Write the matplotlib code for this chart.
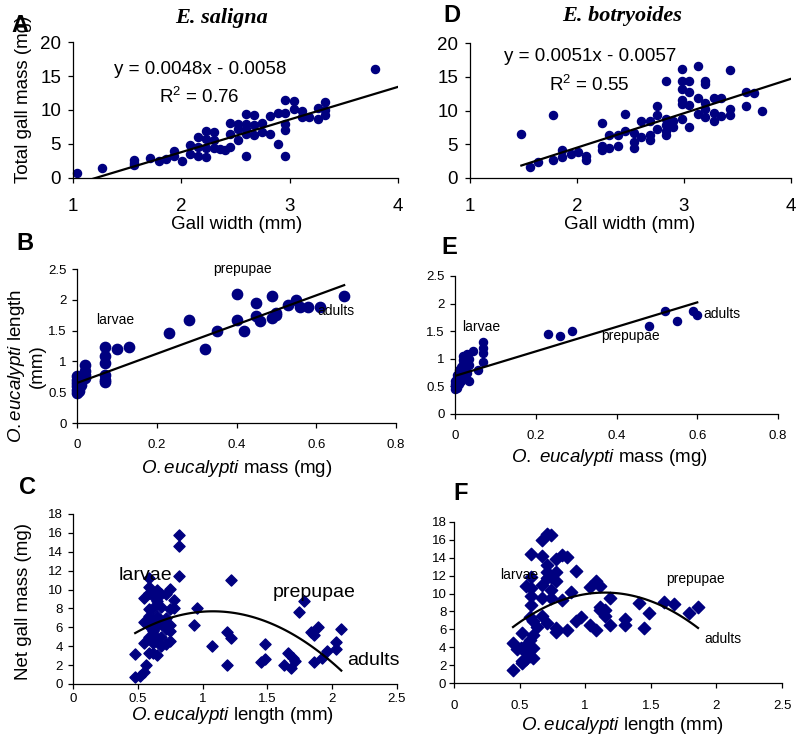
import numpy as np
import matplotlib
matplotlib.use("Agg")
import matplotlib.pyplot as plt

plt.rcParams['font.family'] = ['Liberation Sans', 'DejaVu Sans']
plt.rcParams['mathtext.fontset'] = 'custom'
plt.rcParams['mathtext.rm'] = 'Liberation Sans'
plt.rcParams['mathtext.it'] = 'Liberation Sans:italic'

NAVY = '#000080'

# ---- data ----
# A: E. saligna, gall width (mm) vs total gall mass (mg)
a_width = [1.04, 1.27, 1.56, 1.56, 1.56, 1.71, 1.79, 1.86, 1.93, 1.93, 2.01, 2.08, 2.08,
           2.15, 2.15, 2.15, 2.23, 2.23, 2.23, 2.23, 2.30, 2.30, 2.30, 2.36, 2.40, 2.45,
           2.45, 2.45, 2.52, 2.52, 2.52, 2.60, 2.60, 2.60, 2.60, 2.60, 2.67, 2.67, 2.67,
           2.74, 2.74, 2.82, 2.82, 2.89, 2.89, 2.96, 2.96, 2.96, 2.96, 2.96, 3.04, 3.04,
           3.11, 3.11, 3.18, 3.26, 3.26, 3.33, 3.33, 3.33, 3.79]
a_mass = [0.8, 1.4, 2.6, 2.2, 1.9, 3.0, 2.5, 2.8, 4.0, 3.3, 2.5, 4.9, 3.5,
          6.0, 4.6, 3.2, 6.9, 5.7, 4.4, 3.1, 6.8, 5.6, 4.4, 4.3, 4.1, 8.1,
          6.5, 4.5, 8.0, 7.2, 5.6, 9.4, 8.0, 6.5, 3.2, 7.2, 9.2, 7.8, 6.3,
          8.1, 6.8, 9.1, 6.4, 9.5, 5.0, 11.5, 9.6, 8.0, 7.1, 3.3, 11.3, 10.2,
          9.8, 9.0, 9.0, 10.3, 8.7, 11.2, 10.0, 9.2, 16.0]
a_fit = [4.8, -5.8]

# D: E. botryoides, gall width (mm) vs total gall mass (mg)
d_width = [1.48, 1.56, 1.64, 1.78, 1.78, 1.86, 1.86, 1.94, 2.01, 2.08, 2.08, 2.23, 2.23,
           2.23, 2.30, 2.30, 2.38, 2.38, 2.45, 2.45, 2.53, 2.53, 2.53, 2.60, 2.60, 2.68,
           2.68, 2.68, 2.75, 2.75, 2.75, 2.83, 2.83, 2.83, 2.83, 2.83, 2.90, 2.90, 2.98,
           2.98, 2.98, 2.98, 2.98, 2.98, 3.05, 3.05, 3.05, 3.05, 3.13, 3.13, 3.13, 3.20,
           3.20, 3.20, 3.20, 3.20, 3.28, 3.28, 3.28, 3.35, 3.35, 3.43, 3.43, 3.43, 3.58,
           3.58, 3.65, 3.73]
d_mass = [6.5, 1.6, 2.4, 9.3, 2.7, 4.1, 3.1, 3.5, 3.9, 3.3, 2.7, 8.2, 4.7,
          4.2, 6.3, 4.4, 6.4, 4.7, 9.5, 7.0, 6.7, 5.3, 4.4, 8.5, 6.1, 8.5,
          6.3, 5.6, 10.6, 9.4, 7.3, 14.4, 8.8, 7.9, 6.3, 7.0, 8.5, 7.6, 16.1,
          14.4, 13.2, 11.5, 11.0, 8.7, 14.4, 12.7, 10.8, 7.6, 16.6, 11.8, 9.5, 14.4,
          14.0, 11.1, 10.2, 9.0, 11.9, 9.6, 8.4, 11.8, 9.2, 16.0, 10.2, 9.4, 12.7,
          10.7, 12.6, 9.9]
d_fit = [5.1, -5.7]

# B: E. saligna, O. eucalypti mass (mg) vs length (mm)
b_mass = [0.0, 0.0, 0.0, 0.0, 0.0, 0.0, 0.005, 0.005, 0.005, 0.01, 0.01, 0.02, 0.02,
          0.02, 0.02, 0.07, 0.07, 0.07, 0.07, 0.07, 0.07, 0.10, 0.13, 0.23, 0.28, 0.32,
          0.35, 0.40, 0.40, 0.42, 0.45, 0.45, 0.46, 0.49, 0.49, 0.50, 0.50, 0.53, 0.55,
          0.56, 0.58, 0.61, 0.67]
b_length = [0.76, 0.70, 0.65, 0.60, 0.54, 0.49, 0.72, 0.57, 0.52, 0.62, 0.68, 0.94, 0.84,
            0.78, 0.73, 1.24, 1.08, 0.97, 0.78, 0.70, 0.67, 1.20, 1.23, 1.46, 1.68, 1.20,
            1.50, 2.09, 1.68, 1.50, 1.94, 1.73, 1.65, 2.06, 1.71, 1.79, 1.75, 1.91, 1.99,
            1.88, 1.88, 1.88, 2.06]
b_fit = [2.37, 0.65]

# E: E. botryoides, O. eucalypti mass (mg) vs length (mm)
e_mass = [0.0, 0.0, 0.0, 0.0, 0.005, 0.005, 0.005, 0.01, 0.01, 0.01, 0.015, 0.015, 0.02,
          0.02, 0.02, 0.02, 0.025, 0.025, 0.03, 0.03, 0.03, 0.035, 0.035, 0.035, 0.045,
          0.058, 0.07, 0.07, 0.07, 0.07, 0.23, 0.26, 0.29, 0.48, 0.52, 0.55, 0.59, 0.60]
e_length = [0.45, 0.50, 0.55, 0.60, 0.48, 0.65, 0.70, 0.55, 0.75, 0.80, 0.60, 0.85, 0.70,
            0.90, 1.05, 0.98, 0.65, 0.80, 0.75, 0.95, 1.08, 0.60, 0.88, 1.00, 1.14,
            0.80, 1.31, 1.20, 1.10, 0.95, 1.45, 1.41, 1.50, 1.60, 1.87, 1.68, 1.87, 1.80]
e_fit = [2.22, 0.69]

# C: E. saligna, O. eucalypti length (mm) vs net gall mass (mg)
c_length = [0.48, 0.48, 0.52, 0.55, 0.56, 0.55, 0.55, 0.55, 0.59, 0.59, 0.59, 0.59, 0.59,
            0.59, 0.59, 0.59, 0.62, 0.62, 0.62, 0.62, 0.62, 0.62, 0.65, 0.65, 0.65, 0.65,
            0.65, 0.65, 0.68, 0.68, 0.68, 0.68, 0.68, 0.72, 0.72, 0.72, 0.72, 0.75, 0.75,
            0.75, 0.75, 0.75, 0.78, 0.78, 0.82, 0.82, 0.82, 0.93, 0.96, 1.07, 1.19, 1.19,
            1.22, 1.22, 1.45, 1.48, 1.48, 1.63, 1.66, 1.68, 1.70, 1.71, 1.74, 1.78, 1.84,
            1.86, 1.86, 1.89, 1.92, 1.96, 2.03, 2.03, 2.07]
c_mass = [3.2, 0.7, 0.9, 1.3, 2.0, 9.1, 6.6, 4.3, 11.2, 10.3, 9.6, 7.9, 7.2,
          6.1, 5.0, 3.3, 9.3, 8.0, 6.8, 5.6, 4.3, 3.3, 10.0, 8.8, 7.2, 6.1,
          4.9, 3.1, 9.5, 8.2, 6.5, 5.0, 4.0, 9.5, 7.0, 5.8, 4.2, 10.1, 7.9,
          6.3, 5.6, 4.6, 8.9, 8.0, 15.8, 14.6, 11.4, 6.2, 8.0, 4.0, 2.0, 5.5,
          4.9, 11.0, 2.3, 2.6, 4.2, 2.0, 3.3, 1.7, 2.8, 2.4, 7.6, 8.8, 5.5,
          5.2, 2.3, 6.0, 2.8, 3.5, 4.4, 3.7, 5.8]
c_fit = [-6.4, 13.82, 0.235]

# F: E. botryoides, O. eucalypti length (mm) vs net gall mass (mg)
f_length = [0.45, 0.45, 0.48, 0.51, 0.52, 0.52, 0.52, 0.55, 0.55, 0.55, 0.55, 0.58, 0.58,
            0.58, 0.59, 0.59, 0.59, 0.59, 0.59, 0.60, 0.60, 0.60, 0.60, 0.63, 0.67, 0.67,
            0.67, 0.67, 0.67, 0.71, 0.71, 0.71, 0.71, 0.71, 0.74, 0.74, 0.74, 0.74, 0.78,
            0.78, 0.78, 0.78, 0.78, 0.82, 0.82, 0.86, 0.86, 0.89, 0.93, 0.93, 0.97, 1.04,
            1.04, 1.08, 1.08, 1.11, 1.11, 1.11, 1.15, 1.15, 1.19, 1.19, 1.30, 1.30, 1.41,
            1.45, 1.49, 1.60, 1.68, 1.79, 1.86]
f_mass = [1.5, 4.5, 3.8, 3.9, 2.2, 2.5, 5.6, 3.5, 4.3, 2.7, 10.8, 4.8, 3.0,
          7.4, 14.4, 11.8, 10.6, 9.7, 8.7, 5.4, 3.9, 2.8, 6.9, 6.3, 16.0, 14.2,
          11.0, 9.5, 7.5, 16.7, 13.2, 12.4, 11.7, 6.7, 16.6, 11.8, 10.4, 9.5, 13.9,
          12.4, 11.4, 6.1, 5.7, 14.3, 9.3, 14.1, 5.9, 10.2, 12.5, 6.9, 7.4, 10.7,
          6.5, 11.4, 5.9, 10.9, 8.5, 8.2, 7.5, 8.2, 9.5, 6.5, 7.1, 6.5, 9.0,
          6.1, 7.8, 9.1, 8.8, 7.8, 8.5]
f_fit = [-7.85, 18.06, -0.28]

top_xticks = [1, 2, 3, 4]
top_yticks = [0, 5, 10, 15, 20]
mid_xticks = [0, 0.2, 0.4, 0.6, 0.8]
mid_xlabels = ['0', '0.2', '0.4', '0.6', '0.8']
mid_yticks = [0, 0.5, 1, 1.5, 2, 2.5]
mid_ylabels = ['0', '0.5', '1', '1.5', '2', '2.5']
bot_xticks = [0, 0.5, 1, 1.5, 2, 2.5]
bot_xlabels = ['0', '0.5', '1', '1.5', '2', '2.5']
bot_yticks = [0, 2, 4, 6, 8, 10, 12, 14, 16, 18]

W, H = 799, 736
fig = plt.figure(figsize=(W / 100, H / 100), dpi=100)


def box(x0, y0, x1, y1):
    # pixel box (left, top, right, bottom) -> figure rect
    return [x0 / W, 1 - y1 / H, (x1 - x0) / W, (y1 - y0) / H]


def ftext(x, y, s, **kw):
    return fig.text(x / W, 1 - y / H, s, **kw)


def style(ax, xt, yt, xl, yl, size, xpad, ypad):
    for side in ['top', 'right']:
        ax.spines[side].set_visible(False)
    for side in ['left', 'bottom']:
        ax.spines[side].set_linewidth(0.9)
    ax.set_xticks(xt)
    ax.set_yticks(yt)
    if xl is not None:
        ax.set_xticklabels(xl)
    if yl is not None:
        ax.set_yticklabels(yl)
    ax.tick_params(axis='both', direction='out', length=3.5, width=0.9, labelsize=size)
    ax.tick_params(axis='x', pad=xpad)
    ax.tick_params(axis='y', pad=ypad)


def line_fit(ax, coef, x0, x1):
    xs = np.linspace(x0, x1, 100)
    ax.plot(xs, np.polyval(coef, xs), color='black', lw=1.6, zorder=3)


# ---- A ----
axA = fig.add_axes(box(73, 42, 398, 178))
axA.scatter(a_width, a_mass, s=34, color=NAVY, clip_on=False, zorder=2)
line_fit(axA, a_fit, 1, 4)
axA.set_xlim(1, 4)
axA.set_ylim(0, 20)
style(axA, top_xticks, top_yticks, None, None, 13.5, 11, 5)
axA.text(2.17, 16.0, 'y = 0.0048x - 0.0058', ha='center', va='center', size=13.5)
axA.text(2.17, 11.9, 'R$^2$ = 0.76', ha='center', va='center', size=13.5)

# ---- D ----
axD = fig.add_axes(box(470, 43, 791, 178))
axD.scatter(d_width, d_mass, s=34, color=NAVY, clip_on=False, zorder=2)
line_fit(axD, d_fit, min(d_width), 4)
axD.set_xlim(1, 4)
axD.set_ylim(0, 20)
style(axD, top_xticks, top_yticks, None, None, 13.5, 11, 5)
axD.text(2.12, 18.0, 'y = 0.0051x - 0.0057', ha='center', va='center', size=13.5)
axD.text(2.12, 13.8, 'R$^2$ = 0.55', ha='center', va='center', size=13.5)

# ---- B ----
axB = fig.add_axes(box(77, 269, 396, 423))
axB.scatter(b_mass, b_length, s=55, color=NAVY, clip_on=False, zorder=2)
line_fit(axB, b_fit, 0, max(b_mass))
axB.set_xlim(0, 0.8)
axB.set_ylim(0, 2.5)
style(axB, mid_xticks, mid_yticks, mid_xlabels, mid_ylabels, 9.5, 8, 4)
axB.text(0.095, 1.67, 'larvae', ha='center', va='center', size=10)
axB.text(0.415, 2.5, 'prepupae', ha='center', va='center', size=10)
axB.text(0.65, 1.82, 'adults', ha='center', va='center', size=10)

# ---- E ----
axE = fig.add_axes(box(455, 276, 778, 414))
axE.scatter(e_mass, e_length, s=34, color=NAVY, clip_on=False, zorder=2)
line_fit(axE, e_fit, 0, max(e_mass))
axE.set_xlim(0, 0.8)
axE.set_ylim(0, 2.5)
style(axE, mid_xticks, mid_yticks, mid_xlabels, mid_ylabels, 9.5, 8, 4)
axE.text(0.066, 1.57, 'larvae', ha='center', va='center', size=10)
axE.text(0.435, 1.42, 'prepupae', ha='center', va='center', size=10)
axE.text(0.66, 1.82, 'adults', ha='center', va='center', size=10)

# ---- C ----
axC = fig.add_axes(box(73, 514, 397, 684))
axC.scatter(c_length, c_mass, s=32, marker='D', color=NAVY, clip_on=False, zorder=2)
line_fit(axC, c_fit, min(c_length), max(c_length))
axC.set_xlim(0, 2.5)
axC.set_ylim(0, 18)
style(axC, bot_xticks, bot_yticks, bot_xlabels, None, 9.5, 3, 4)
axC.text(0.56, 11.5, 'larvae', ha='center', va='center', size=14)
axC.text(1.86, 9.7, 'prepupae', ha='center', va='center', size=14)
axC.text(2.32, 2.5, 'adults', ha='center', va='center', size=14, clip_on=False)

# ---- F ----
axF = fig.add_axes(box(454, 522, 782, 683))
axF.scatter(f_length, f_mass, s=40, marker='D', color=NAVY, clip_on=False, zorder=2)
line_fit(axF, f_fit, min(f_length), max(f_length))
axF.set_xlim(0, 2.5)
axF.set_ylim(0, 18)
style(axF, bot_xticks, bot_yticks, bot_xlabels, None, 9.5, 9, 2)
axF.text(0.50, 12.1, 'larvae', ha='center', va='center', size=10)
axF.text(1.84, 11.6, 'prepupae', ha='center', va='center', size=10)
axF.text(2.05, 4.9, 'adults', ha='center', va='center', size=10)

# ---- titles, panel letters, axis labels ----
title_kw = dict(family='Liberation Serif', weight='bold', style='italic', size=16,
                ha='center', va='center')
ftext(222, 18, 'E. saligna', **title_kw)
ftext(622, 16, 'E. botryoides', **title_kw)

letter_kw = dict(weight='bold', size=17, ha='center', va='center')
for lx, ly, lt in [(20, 25, 'A'), (452, 15, 'D'), (25, 243, 'B'),
                   (449, 248, 'E'), (27, 488, 'C'), (461, 494, 'F')]:
    ftext(lx, ly, lt, **letter_kw)

lab = 13.5
ftext(24, 183, 'Total gall mass (mg)', rotation=90, ha='center', va='bottom', size=lab)
ftext(237, 225, 'Gall width (mm)', ha='center', va='center', size=lab)
ftext(630, 225, 'Gall width (mm)', ha='center', va='center', size=lab)
ftext(26, 366, '$\\mathit{O.eucalypti}$ length\n(mm)', rotation=90, ha='center',
      va='center', multialignment='center', size=lab)
ftext(237, 468, '$\\mathit{O.eucalypti}$ mass (mg)', ha='center', va='center', size=lab)
ftext(609, 457, '$\\mathit{O.\\ eucalypti}$ mass (mg)', ha='center', va='center', size=lab)
ftext(24, 602, 'Net gall mass (mg)', rotation=90, ha='center', va='center', size=lab)
ftext(233, 716, '$\\mathit{O.eucalypti}$ length (mm)', ha='center', va='center', size=lab)
ftext(623, 725, '$\\mathit{O.eucalypti}$ length (mm)', ha='center', va='center', size=lab)

fig.savefig('out.png', dpi=100)
